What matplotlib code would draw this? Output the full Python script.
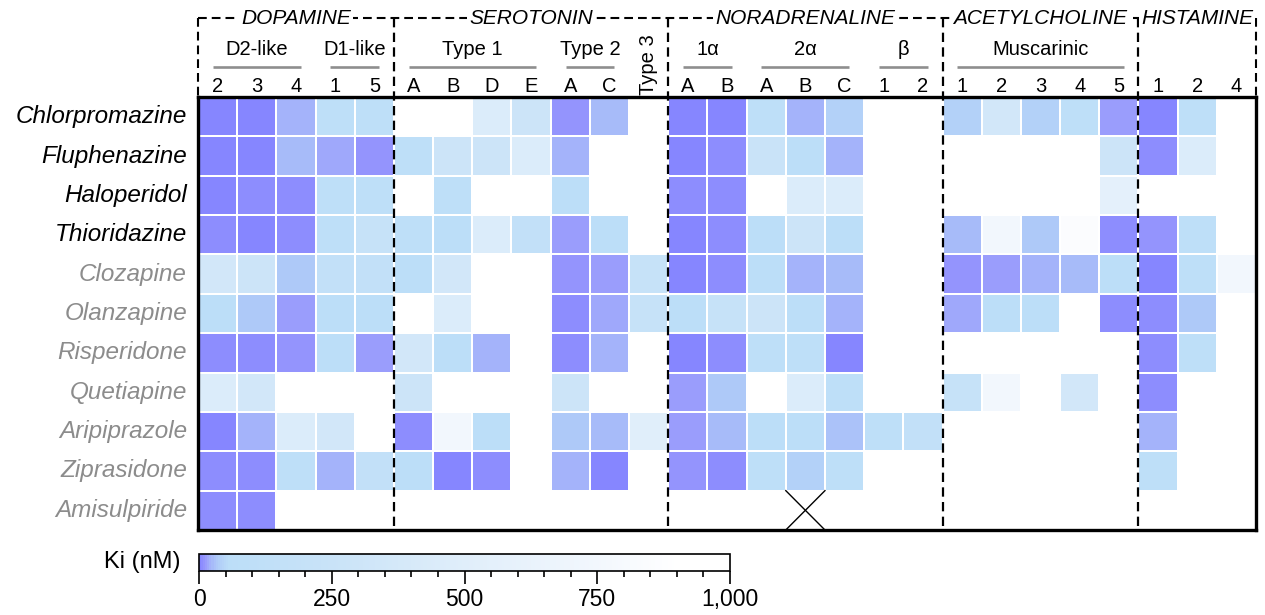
import numpy as np
import matplotlib
matplotlib.use("Agg")
import matplotlib.pyplot as plt
from matplotlib.colors import LinearSegmentedColormap, Normalize
from matplotlib.cm import ScalarMappable
from matplotlib.ticker import MultipleLocator, FuncFormatter

plt.rcParams['font.family'] = ['Liberation Sans', 'DejaVu Sans']

N = np.nan
drugs = ["Chlorpromazine", "Fluphenazine", "Haloperidol", "Thioridazine",
         "Clozapine", "Olanzapine", "Risperidone", "Quetiapine",
         "Aripiprazole", "Ziprasidone", "Amisulpiride"]
typical = [True, True, True, True, False, False, False, False, False, False, False]

col_labels = ["2", "3", "4", "1", "5",
              "A", "B", "D", "E", "A", "C", "",
              "A", "B", "A", "B", "C", "1", "2",
              "1", "2", "3", "4", "5",
              "1", "2", "4"]

groups = ["DOPAMINE", "SEROTONIN", "NORADRENALINE", "ACETYLCHOLINE", "HISTAMINE"]
group_sizes = [5, 7, 7, 5, 3]
subgroups = [("D2-like", 0, 3), ("D1-like", 3, 5), ("Type 1", 5, 9), ("Type 2", 9, 11),
             ("1α", 12, 14), ("2α", 14, 17), ("β", 17, 19), ("Muscarinic", 19, 24)]
rotated_labels = [("Type 3", 11)]
missing_marks = [(10, 15)]  # (row, col) crossed-out cell

# Ki values (nM); NaN = no data
ki = [
    [2, 2, 20, 90, 90,   N, N, 450, 280, 10, 25, N,   2, 2, 90, 20, 40, N, N,   40, 350, 40, 90, 12,   2, 90, N],
    [2, 2, 25, 16, 10,   90, 280, 280, 450, 20, N, N,   3, 7, 250, 55, 20, N, N,   N, N, N, N, 280,   5, 450, N],
    [2, 5, 7, 90, 90,    N, 90, N, N, 55, N, N,   5, 7, N, 450, 450, N, N,   N, N, N, N, 550,   N, N, N],
    [5, 2, 7, 90, 200,   90, 55, 450, 150, 13, 55, N,   2, 5, 55, 280, 55, N, N,   25, 750, 33, 850, 5,   10, 90, N],
    [350, 280, 33, 150, 150,   55, 350, N, N, 10, 13, 200,   2, 5, 55, 20, 25, N, N,   10, 13, 20, 25, 55,   2, 90, 750],
    [55, 33, 13, 55, 55,   N, 450, N, N, 7, 16, 200,   55, 200, 280, 55, 20, N, N,   16, 55, 55, N, 5,   5, 33, N],
    [5, 5, 10, 55, 13,   350, 55, 20, N, 5, 20, N,   3, 7, 90, 90, 3, N, N,   N, N, N, N, N,   5, 90, N],
    [450, 350, N, N, N,   280, N, N, N, 280, N, N,   13, 33, N, 450, 90, N, N,   200, 750, N, 350, N,   7, N, N],
    [2, 20, 450, 350, N,   7, 750, 55, N, 33, 25, 500,   13, 25, 55, 55, 28, 90, 150,   N, N, N, N, N,   20, N, N],
    [5, 5, 90, 20, 150,   55, 3, 7, N, 20, 3, N,   10, 7, 90, 40, 90, N, N,   N, N, N, N, N,   90, N, N],
    [7, 5, N, N, N,   N, N, N, N, N, N, N,   N, N, N, N, N, N, N,   N, N, N, N, N,   N, N, N],
]
data = np.ma.masked_invalid(np.array(ki, dtype=float))

cmap = LinearSegmentedColormap.from_list("ki", [
    (0.000, "#8686ff"),
    (0.005, "#8f8ffe"),
    (0.010, "#9898fc"),
    (0.020, "#a4b4fa"),
    (0.033, "#b0ccf8"),
    (0.055, "#bcdef8"),
    (0.250, "#c9e3f8"),
    (0.500, "#e0eefa"),
    (0.750, "#f2f7fd"),
    (0.900, "#ffffff"),
    (1.000, "#ffffff"),
])
cmap.set_bad("white")
norm = Normalize(0, 1000)

W, H = 1265, 615
fig = plt.figure(figsize=(W / 100, H / 100), dpi=100)
L, R, T, B = 198, 1256, 97, 530
ax = fig.add_axes([L / W, 1 - B / H, (R - L) / W, (B - T) / H])

nrows, ncols = data.shape
ax.pcolormesh(np.arange(ncols + 1), np.arange(nrows + 1), data, cmap=cmap, norm=norm,
              edgecolors="white", linewidth=1.3)
ax.set_xlim(0, ncols)
ax.set_ylim(nrows, 0)
ax.set_xticks([])
ax.set_yticks([])
for s in ax.spines.values():
    s.set_linewidth(2.4)
    s.set_color("black")
    s.set_zorder(5)

# row labels
for i, (d, t) in enumerate(zip(drugs, typical)):
    ax.text(-0.28, i + 0.5, d, ha="right", va="center", fontsize=17.5, style="italic",
            color="black" if t else "#8c8c8c", clip_on=False)

# column labels
for j, lab in enumerate(col_labels):
    if lab:
        ax.text(j + 0.5, -0.27, lab, ha="center", va="center", fontsize=14.5, clip_on=False)
for lab, j in rotated_labels:
    ax.text(j + 0.5, -0.05, lab, ha="center", va="bottom", rotation=90, fontsize=14.5,
            clip_on=False)

# subgroup labels and grey rules
for lab, a, b in subgroups:
    ax.text((a + b) / 2, -1.2, lab, ha="center", va="center", fontsize=14.5, clip_on=False)
    ax.plot([a + 0.38, b - 0.38], [-0.76, -0.76], color="#8e8e8e", lw=1.9,
            solid_capstyle="butt", clip_on=False)

# group dashed frames
dash = (0, (4.2, 2.4))
ytop = -2.0
bounds = np.concatenate([[0], np.cumsum(group_sizes)])
ax.plot([0, ncols], [ytop, ytop], color="black", lw=1.5, ls=dash, clip_on=False)
ax.plot([0, 0], [ytop, 0], color="black", lw=1.5, ls=dash, clip_on=False)
ax.plot([ncols, ncols], [ytop, 0], color="black", lw=1.5, ls=dash, clip_on=False)
for xb in bounds[1:-1]:
    ax.plot([xb, xb], [ytop, nrows], color="black", lw=1.6, ls=dash, clip_on=False, zorder=4)
for g, a, b in zip(groups, bounds[:-1], bounds[1:]):
    ax.text((a + b) / 2, ytop, g, ha="center", va="center", fontsize=15, style="italic",
            bbox=dict(boxstyle="square,pad=0.1", fc="white", ec="none"), clip_on=False,
            zorder=6)

# crossed-out cells
for r, c in missing_marks:
    ax.plot([c, c + 1], [r, r + 1], color="black", lw=1.0, zorder=3)
    ax.plot([c + 1, c], [r, r + 1], color="black", lw=1.0, zorder=3)

# colorbar
cax = fig.add_axes([199 / W, 1 - 571 / H, 531 / W, 17 / H])
sm = ScalarMappable(norm=norm, cmap=cmap)
cb = fig.colorbar(sm, cax=cax, orientation="horizontal")
cb.outline.set_linewidth(1.2)
cb.set_ticks([0, 250, 500, 750, 1000])
cax.xaxis.set_minor_locator(MultipleLocator(50))
cax.xaxis.set_major_formatter(FuncFormatter(lambda v, p: f"{int(v):,}"))
cax.tick_params(axis="x", which="major", length=9.5, width=1.2, labelsize=16.5, pad=3)
cax.tick_params(axis="x", which="minor", length=4.5, width=1.2)
fig.text(181 / W, 1 - 562 / H, "Ki (nM)", ha="right", va="center", fontsize=17)

fig.savefig("out.png", dpi=100)
